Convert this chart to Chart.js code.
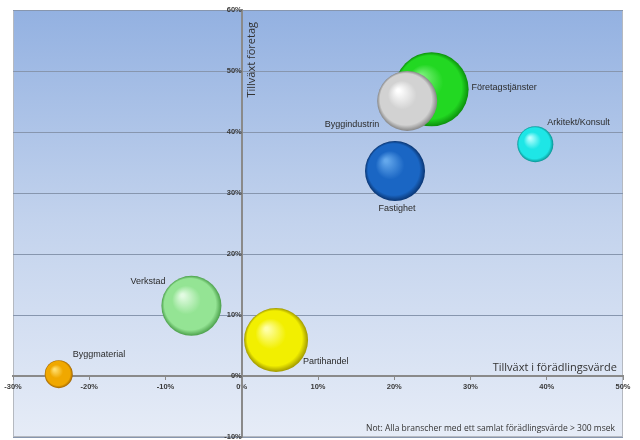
<!DOCTYPE html>
<html>
<head>
<meta charset="utf-8">
<script src="https://cdn.jsdelivr.net/npm/chart.js@4.4.0/dist/chart.umd.min.js"></script>
<style>
  html, body { margin: 0; padding: 0; background: #fff; }
  #wrap { width: 640px; height: 440px; }
</style>
</head>
<body>
<div id="wrap"><canvas id="bubbleChart" width="640" height="440"></canvas></div>
<script>
// --- Data ---
const branscher = ["Företagstjänster", "Byggindustrin", "Arkitekt/Konsult", "Fastighet", "Verkstad", "Partihandel", "Byggmaterial"];
const tillvaxtForadling = [24.9, 21.7, 38.5, 20.1, -6.6, 4.5, -24.0];   // x, %
const tillvaxtForetag = [47.0, 45.1, 38.0, 33.6, 11.5, 5.9, 0.3];      // y, %
const bubbleSize = [37, 30, 18, 30, 30, 32, 14];                        // radius
const xTicks = [-30, -20, -10, 0, 10, 20, 30, 40, 50];
const yTicks = [-10, 0, 10, 20, 30, 40, 50, 60];

// --- Styles ---
const sphereColors = [
  ["#7cf07c", "#22d822", "#0b8f0b"],
  ["#ffffff", "#d2d2d2", "#858585"],
  ["#b8ffff", "#1ee6e6", "#0a9494"],
  ["#64a8ec", "#1a66c4", "#0a3572"],
  ["#e2fbe2", "#94e494", "#4a9f4a"],
  ["#ffffa8", "#f2ef00", "#a09800"],
  ["#ffdf70", "#f0a800", "#a06400"]
];
// label offset from bubble centre (dx, dy) and alignment
const labelPlace = [
  { dx: 40, dy: -2, align: "left" },
  { dx: -28, dy: 24, align: "right" },
  { dx: 12, dy: -22, align: "left" },
  { dx: 2, dy: 37, align: "center" },
  { dx: -26, dy: -24, align: "right" },
  { dx: 27, dy: 22, align: "left" },
  { dx: 14, dy: -20, align: "left" }
];

const points = branscher.map((b, i) => ({ x: tillvaxtForadling[i], y: tillvaxtForetag[i], r: bubbleSize[i] }));

function sphereFill(ctx) {
  const chart = ctx.chart;
  const raw = ctx.raw;
  const c = sphereColors[ctx.dataIndex || 0];
  if (!raw || !chart.scales.x || !chart.scales.y) return c[1];
  const cx = chart.scales.x.getPixelForValue(raw.x);
  const cy = chart.scales.y.getPixelForValue(raw.y);
  const r = raw.r;
  if (!isFinite(cx) || !isFinite(cy)) return c[1];
  const g = chart.ctx.createRadialGradient(cx - r * 0.3, cy - r * 0.35, r * 0.05, cx, cy, r);
  g.addColorStop(0, c[0]);
  g.addColorStop(0.45, c[1]);
  g.addColorStop(0.85, c[1]);
  g.addColorStop(1, c[2]);
  return g;
}

// --- Plugins ---
const backgroundPlugin = {
  id: "bg",
  beforeDraw(chart) {
    const { ctx, chartArea: a } = chart;
    const g = ctx.createLinearGradient(0, a.top, 0, a.bottom);
    g.addColorStop(0, "#93b1e1");
    g.addColorStop(0.5, "#c3d3ed");
    g.addColorStop(1, "#e6ecf7");
    ctx.save();
    ctx.fillStyle = g;
    ctx.fillRect(a.left, a.top, a.right - a.left, a.bottom - a.top);
    ctx.strokeStyle = "#b5b9c0";
    ctx.lineWidth = 1;
    ctx.strokeRect(a.left + 0.5, a.top + 0.5, a.right - a.left - 1, a.bottom - a.top - 1);
    ctx.restore();
  }
};

const textPlugin = {
  id: "texts",
  afterDraw(chart) {
    const { ctx, chartArea: a } = chart;
    const sx = chart.scales.x, sy = chart.scales.y;
    ctx.save();
    // bubble labels
    ctx.fillStyle = "#2b2b2b";
    ctx.font = "9px 'Liberation Sans', Arial, sans-serif";
    ctx.textBaseline = "middle";
    points.forEach((p, i) => {
      const px = sx.getPixelForValue(p.x), py = sy.getPixelForValue(p.y);
      const lp = labelPlace[i];
      ctx.textAlign = lp.align;
      ctx.fillText(branscher[i], px + lp.dx, py + lp.dy);
    });
    // axis titles
    const x0 = sx.getPixelForValue(0), y0 = sy.getPixelForValue(0);
    ctx.font = "11px 'Open Sans', sans-serif";
    ctx.fillStyle = "#333";
    ctx.textAlign = "right";
    ctx.textBaseline = "alphabetic";
    ctx.fillText("Tillväxt i förädlingsvärde", a.right - 6, y0 - 5);
    ctx.save();
    ctx.translate(x0 + 13, a.top + 12);
    ctx.rotate(-Math.PI / 2);
    ctx.textAlign = "right";
    ctx.fillText("Tillväxt företag", 0, 0);
    ctx.restore();
    // note
    ctx.font = "8.5px 'Open Sans', sans-serif";
    ctx.textAlign = "right";
    ctx.textBaseline = "middle";
    ctx.fillText("Not: Alla branscher med ett samlat förädlingsvärde > 300 msek", a.right - 8, a.bottom - 8);
    ctx.restore();
  }
};

// --- Chart ---
const tickFont = { size: 7.5, weight: "bold", family: "'Liberation Sans', Arial, sans-serif" };

new Chart(document.getElementById("bubbleChart").getContext("2d"), {
  type: "bubble",
  data: {
    labels: branscher,
    datasets: [{
      data: points,
      backgroundColor: sphereFill,
      borderWidth: 0,
      hoverBorderWidth: 0,
      clip: false
    }]
  },
  options: {
    responsive: false,
    animation: false,
    events: [],
    layout: { autoPadding: false, padding: { left: 13, right: 17, top: 10, bottom: 3 } },
    plugins: { legend: { display: false }, tooltip: { enabled: false } },
    scales: {
      x: {
        type: "linear",
        min: xTicks[0],
        max: xTicks[xTicks.length - 1],
        position: { y: 0 },
        afterBuildTicks: (s) => { s.ticks = xTicks.map(v => ({ value: v })); },
        afterFit: (s) => { s.paddingLeft = 0; s.paddingRight = 0; },
        ticks: { font: tickFont, color: "#3a3a3a", padding: 3, callback: v => v + "%" },
        grid: { drawOnChartArea: false, drawTicks: true, tickLength: 3, color: "#8a8a8a" },
        border: { color: "#8a8a8a", width: 2 }
      },
      y: {
        type: "linear",
        min: yTicks[0],
        max: yTicks[yTicks.length - 1],
        position: { x: 0 },
        afterBuildTicks: (s) => { s.ticks = yTicks.map(v => ({ value: v })); },
        afterFit: (s) => { s.paddingTop = 0; s.paddingBottom = 0; },
        ticks: { font: tickFont, color: "#3a3a3a", padding: 2, callback: v => v + "%" },
        grid: { color: "#8796ae", lineWidth: 1, tickLength: 3 },
        border: { color: "#8a8a8a", width: 2 }
      }
    }
  },
  plugins: [backgroundPlugin, textPlugin]
});
</script>
</body>
</html>
